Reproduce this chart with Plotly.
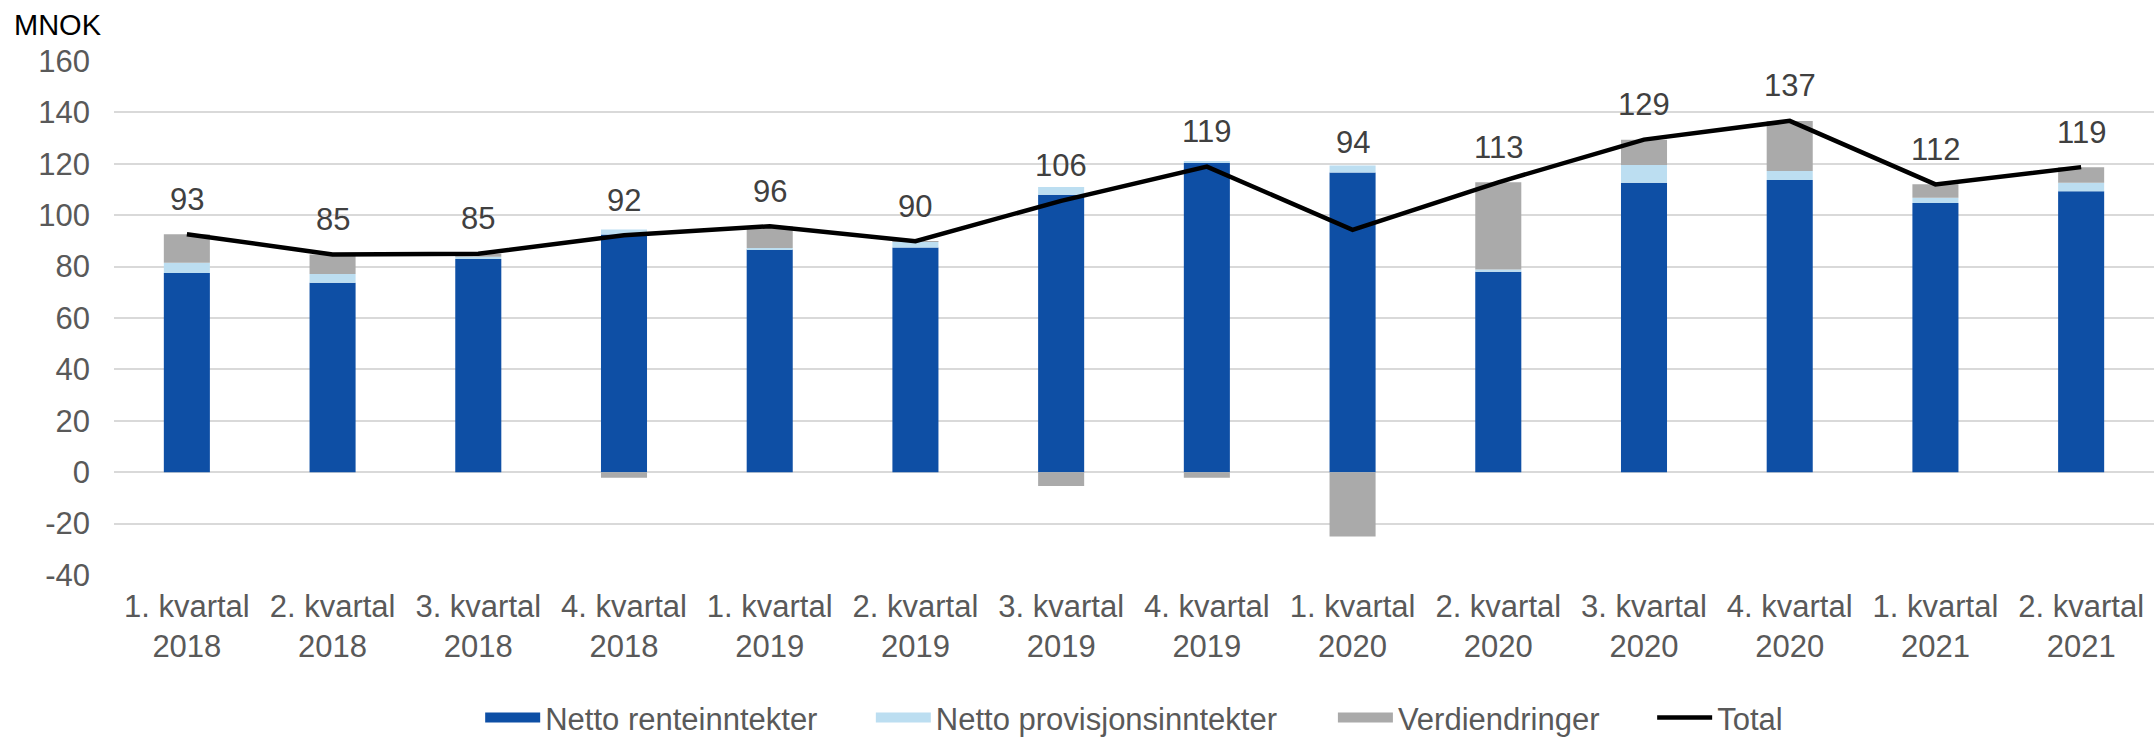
import plotly.graph_objects as go

categories = ["1. kvartal<br>2018", "2. kvartal<br>2018", "3. kvartal<br>2018", "4. kvartal<br>2018",
              "1. kvartal<br>2019", "2. kvartal<br>2019", "3. kvartal<br>2019", "4. kvartal<br>2019",
              "1. kvartal<br>2020", "2. kvartal<br>2020", "3. kvartal<br>2020", "4. kvartal<br>2020",
              "1. kvartal<br>2021", "2. kvartal<br>2021"]
netto_rente = [77.5, 73.7, 83.0, 92.5, 86.7, 87.4, 108.0, 120.3, 116.6, 78.0, 112.6, 113.7, 104.7, 109.3]
netto_provisjon = [4.0, 3.4, 0.8, 1.9, 0.5, 2.3, 3.0, 0.8, 2.7, 0.9, 6.9, 3.5, 2.1, 3.3]
verdiendringer = [11.1, 7.6, 1.2, -2.2, 8.5, 0.2, -5.4, -2.2, -25.0, 33.9, 9.9, 19.5, 5.2, 6.1]
total = [92.6, 84.7, 85.0, 92.2, 95.7, 89.9, 105.6, 118.9, 94.3, 112.8, 129.4, 136.7, 112.0, 118.7]
y_ticks = [-40, -20, 0, 20, 40, 60, 80, 100, 120, 140, 160]

FONT = "Liberation Sans, Arial, sans-serif"
TXT = "#595959"
C_RENTE, C_PROV, C_VERDI, C_TOTAL = "#0E4FA5", "#BCDEF1", "#AAAAAA", "#000000"

fig = go.Figure()
series = [("Netto renteinntekter", netto_rente, C_RENTE),
          ("Netto provisjonsinntekter", netto_provisjon, C_PROV),
          ("Verdiendringer", verdiendringer, C_VERDI)]
for name, vals, col in series:
    fig.add_trace(go.Bar(x=categories, y=vals, name=name, showlegend=False, legendgroup=name,
                         marker=dict(color=col, line=dict(width=0))))
fig.add_trace(go.Scatter(x=categories, y=total, name="Total", mode="lines", showlegend=False,
                         legendgroup="Total", line=dict(color=C_TOTAL, width=4.5)))

# legend entries drawn as wide swatches, one legend box per entry
legend_names = ["legend", "legend2", "legend3", "legend4"]
legend_x = [0.1795, 0.371, 0.5975, 0.754]
swatches = [(n, c, 11) for n, _, c in series] + [("Total", C_TOTAL, 4.5)]
for (name, col, w), lg in zip(swatches, legend_names):
    fig.add_trace(go.Scatter(x=[None], y=[None], name=name, mode="lines", legendgroup=name,
                             legend=lg, line=dict(color=col, width=w)))

# total labels: placed above the line; if the positive bar stack rises well above the
# total (large negative value change), the label is lifted above the bar instead
for c, t, a, b, v in zip(categories, total, netto_rente, netto_provisjon, verdiendringer):
    pos_top = max(a, 0) + max(b, 0) + max(v, 0)
    anchor = pos_top - 4.6 if pos_top - t > 10 else t
    fig.add_annotation(x=c, y=anchor, text=f"{t:.0f}", showarrow=False, yanchor="bottom",
                       yshift=15.5, font=dict(family=FONT, size=31, color="#404040"))

fig.add_annotation(xref="paper", yref="paper", x=-0.0498, y=1.0705, xanchor="left", yanchor="middle",
                   text="MNOK", showarrow=False, font=dict(family=FONT, size=29, color="#000000"))

legend_style = dict(orientation="h", xref="paper", xanchor="left", yref="container", y=0.026,
                    yanchor="middle", font=dict(family=FONT, size=31, color=TXT), itemwidth=55,
                    bgcolor="rgba(0,0,0,0)")
fig.update_layout(**{lg: dict(legend_style, x=lx) for lg, lx in zip(legend_names, legend_x)})

fig.update_layout(
    width=2154, height=737,
    margin=dict(l=114, r=0, t=61, b=162, autoexpand=False),
    barmode="relative", bargap=0.684,
    plot_bgcolor="white", paper_bgcolor="white",
    font=dict(family=FONT, size=31, color=TXT),
    showlegend=True,
    xaxis=dict(showgrid=False, showline=False, ticks="", tickfont=dict(family=FONT, size=31, color=TXT),
               ticklabelstandoff=10),
    yaxis=dict(range=[-40, 160], tickvals=y_ticks, ticktext=[str(v) for v in y_ticks],
               showgrid=True, gridcolor="#D9D9D9", gridwidth=2,
               zeroline=True, zerolinecolor="#D9D9D9", zerolinewidth=2, showline=False, ticks="",
               tickfont=dict(family=FONT, size=31, color=TXT), ticklabelstandoff=23),
)

fig.write_html("out.html", config={"displayModeBar": False},
               post_script="document.body.style.margin='0';document.body.style.overflow='hidden';")
